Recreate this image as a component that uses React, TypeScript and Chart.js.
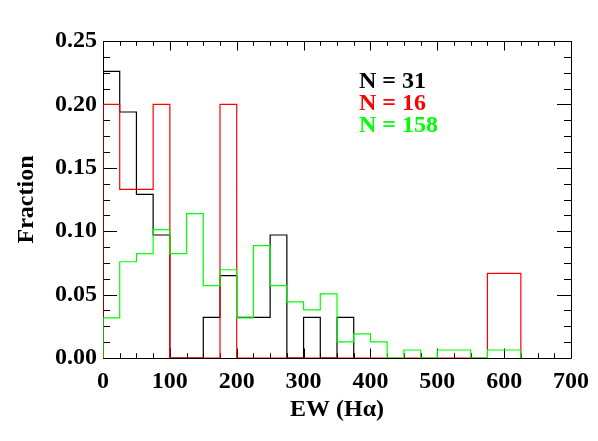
import React, { useEffect, useRef } from "react";
import { Chart, registerables } from "chart.js";

Chart.register(...registerables);

// Histogram bins: left edges start at 0, width 25
const binStart = 0;
const binWidth = 25;

// Fractions per bin (N = 31, black)
const blackValues = [0.226, 0.194, 0.129, 0.097, 0, 0, 0.032, 0.065, 0.032, 0.032, 0.097, 0, 0.032, 0, 0.032];
// Fractions per bin (N = 16, red)
const redValues = [0.2, 0.133, 0.133, 0.2, 0, 0, 0, 0.2, 0, 0, 0, 0, 0, 0, 0, 0, 0, 0, 0, 0, 0, 0, 0, 0.0667, 0.0667];
// Fractions per bin (N = 158, green)
const greenValues = [
  0.0316, 0.0759, 0.0823, 0.1013, 0.0823, 0.1139, 0.057, 0.0696, 0.0316, 0.0886, 0.057, 0.0443, 0.038, 0.0506,
  0.0127, 0.019, 0.0127, 0, 0.0063, 0, 0.0063, 0.0063, 0, 0.0063, 0.0063,
];

const legendLabels = ["N = 31", "N = 16", "N = 158"];
const seriesColors = ["#000000", "#ff0000", "#00ff00"];

const xTitle = "EW (H\u03b1)";
const yTitle = "Fraction";
const xMin = 0;
const xMax = 700;
const yMin = 0;
const yMax = 0.25;

const FONT = "'Liberation Serif', 'Times New Roman', serif";

function stepPoints(values: number[]) {
  const pts: { x: number; y: number }[] = [{ x: binStart, y: 0 }];
  values.forEach((v, i) => {
    const l = binStart + i * binWidth;
    pts.push({ x: l, y: v });
    pts.push({ x: l + binWidth, y: v });
  });
  pts.push({ x: binStart + values.length * binWidth, y: 0 });
  return pts;
}

const framePlugin = {
  id: "idlFrame",
  beforeDatasetsDraw(chart: any) {
    const { ctx, chartArea, scales } = chart;
    const { left, right, top, bottom } = chartArea;
    const xs = scales.x;
    const ys = scales.y;
    ctx.save();
    ctx.strokeStyle = "#000";
    ctx.lineWidth = 1;
    ctx.beginPath();
    ctx.rect(Math.round(left) + 0.5, Math.round(top) + 0.5, Math.round(right - left), Math.round(bottom - top));
    ctx.stroke();
    const xMajorLen = 9.5;
    const xMinorLen = 4.75;
    for (let v = xMin; v <= xMax + 1e-9; v += 25) {
      const px = Math.round(xs.getPixelForValue(v)) + 0.5;
      const len = Math.abs(v % 100) < 1e-9 ? xMajorLen : xMinorLen;
      ctx.beginPath();
      ctx.moveTo(px, bottom);
      ctx.lineTo(px, bottom - len);
      ctx.moveTo(px, top);
      ctx.lineTo(px, top + len);
      ctx.stroke();
    }
    const yMajorLen = 14;
    const yMinorLen = 7;
    for (let i = 0; i <= 20; i++) {
      const v = yMin + i * 0.0125;
      const py = Math.round(ys.getPixelForValue(v)) + 0.5;
      const len = i % 4 === 0 ? yMajorLen : yMinorLen;
      ctx.beginPath();
      ctx.moveTo(left, py);
      ctx.lineTo(left + len, py);
      ctx.moveTo(right, py);
      ctx.lineTo(right - len, py);
      ctx.stroke();
    }
    ctx.restore();
  },
  afterDatasetsDraw(chart: any) {
    const { ctx } = chart;
    ctx.save();
    ctx.font = `bold 24px ${FONT}`;
    ctx.textAlign = "left";
    ctx.textBaseline = "alphabetic";
    legendLabels.forEach((t, i) => {
      ctx.fillStyle = seriesColors[i];
      ctx.fillText(t, 359, 88 + i * 22);
    });
    ctx.restore();
  },
};

export default function App() {
  const ref = useRef<HTMLCanvasElement | null>(null);
  useEffect(() => {
    if (!ref.current) return;
    const series = [blackValues, redValues, greenValues];
    const chart = new Chart(ref.current, {
      type: "line",
      data: {
        datasets: series.map((vals, i) => ({
          label: legendLabels[i],
          data: stepPoints(vals),
          borderColor: seriesColors[i],
          borderWidth: 1.2,
          pointRadius: 0,
          fill: false,
          tension: 0,
          order: 2 - i,
        })),
      },
      options: {
        animation: false,
        responsive: false,
        maintainAspectRatio: false,
        layout: { padding: { left: 0, right: 26, top: 41, bottom: 0 } },
        plugins: { legend: { display: false }, tooltip: { enabled: false } },
        scales: {
          x: {
            type: "linear",
            min: xMin,
            max: xMax,
            grid: { display: false, drawTicks: false },
            border: { display: false },
            ticks: {
              stepSize: 100,
              padding: 9,
              color: "#000",
              font: { family: FONT, size: 24, weight: "bold" },
              callback: (v: any) => String(Math.round(v)),
            },
            title: {
              display: true,
              text: xTitle,
              color: "#000",
              font: { family: FONT, size: 24, weight: "bold" },
              padding: { top: 0, bottom: 17 },
            },
            afterFit: (s: any) => {
              s.height = 83;
            },
          },
          y: {
            type: "linear",
            min: yMin,
            max: yMax,
            grid: { display: false, drawTicks: false },
            border: { display: false },
            ticks: {
              stepSize: 0.05,
              padding: 6,
              color: "#000",
              font: { family: FONT, size: 24, weight: "bold" },
              callback: (v: any) => Number(v).toFixed(2),
            },
            title: {
              display: true,
              text: yTitle,
              color: "#000",
              font: { family: FONT, size: 24, weight: "bold" },
              padding: { top: 12, bottom: 0 },
            },
            afterFit: (s: any) => {
              s.width = 103;
            },
          },
        },
      },
      plugins: [framePlugin],
    } as any);
    return () => chart.destroy();
  }, []);
  return (
    <div style={{ position: "fixed", left: 0, top: 0, width: 598, height: 441, background: "#fff" }}>
      <canvas ref={ref} width={598} height={441} style={{ width: 598, height: 441 }} />
    </div>
  );
}
